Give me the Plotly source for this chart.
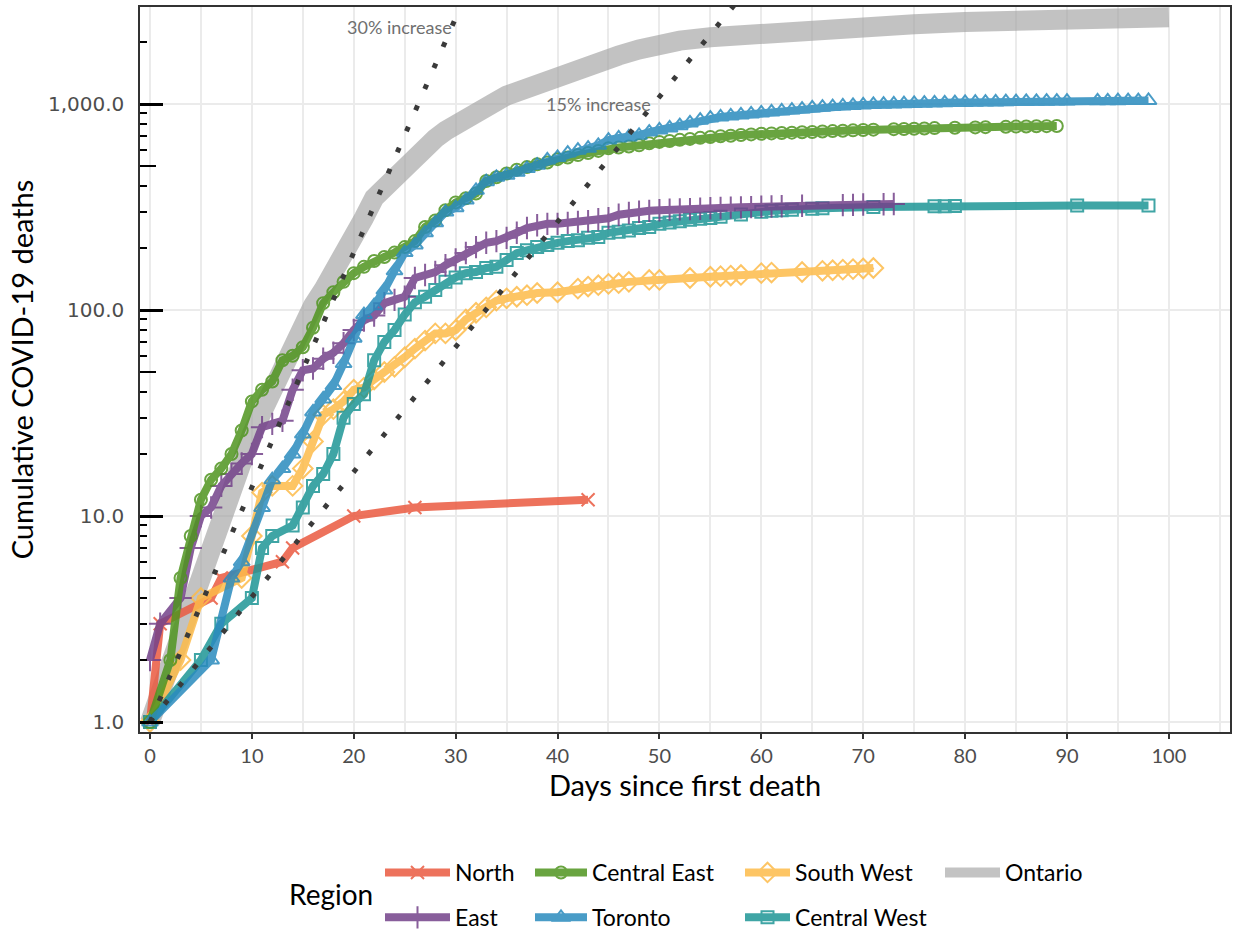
import math
import plotly.graph_objects as go

# ---- cumulative deaths by region (days since first death) ----
north_day = [0, 1, 6, 7, 13, 14, 20, 26, 43]
north_val = [1, 3, 4, 5, 6, 7, 10, 11, 12]

east_day = [0, 1, 3, 4, 5, 6, 7, 8, 9, 10, 11, 12, 13, 14, 15, 16, 17, 18, 19, 20,
            21, 22, 23, 24, 25, 26, 27, 28, 29, 30, 31, 32, 33, 34, 35, 36, 37, 38, 39, 40,
            41, 42, 43, 44, 45, 46, 47, 48, 49, 50, 51, 52, 53, 54, 55, 56, 57, 58, 59, 60,
            61, 62, 64, 68, 69, 70, 72, 73]
east_val = [2, 3, 4, 7, 10, 11, 14, 16, 18, 20, 27, 28, 29, 41, 51, 52, 58, 62, 69, 80,
            89, 94, 108, 112, 116, 143, 148, 153, 165, 176, 189, 202, 212, 216, 224, 237, 250, 258, 262, 262,
            265, 268, 270, 276, 279, 290, 296, 300, 303, 305, 307, 308, 309, 310, 312, 313, 314, 315, 316, 317,
            318, 319, 321, 323, 324, 325, 326, 327]

ce_day = [0, 2, 3, 4, 5, 6, 7, 8, 9, 10, 11, 12, 13, 14, 15, 16, 17, 18, 19, 20,
          21, 22, 23, 24, 25, 26, 27, 28, 29, 30, 31, 32, 33, 34, 35, 36, 37, 38, 39, 40,
          41, 42, 43, 44, 45, 46, 47, 48, 49, 50, 51, 52, 53, 54, 55, 56, 57, 58, 59, 60,
          61, 62, 63, 64, 65, 66, 67, 68, 69, 70, 71, 73, 74, 75, 76, 77, 79, 81, 82, 84,
          85, 86, 87, 88, 89]
ce_val = [1, 2, 5, 8, 12, 15, 17, 20, 26, 36, 41, 45, 57, 60, 66, 82, 108, 122, 137, 151,
          162, 173, 181, 190, 202, 216, 253, 272, 305, 333, 349, 368, 423, 441, 460, 480, 494, 510, 520, 540,
          550, 565, 578, 592, 610, 615, 622, 630, 645, 655, 662, 670, 677, 685, 692, 697, 702, 707, 712, 717,
          720, 723, 726, 729, 732, 736, 739, 742, 745, 748, 751, 755, 757, 759, 761, 764, 767, 770, 772, 775,
          777, 778, 780, 781, 782]

tor_day = [0, 6, 8, 9, 11, 12, 13, 14, 15, 16, 17, 18, 19, 20, 21, 22, 23, 24, 25, 26,
           27, 28, 29, 30, 31, 32, 33, 34, 35, 36, 37, 38, 39, 40, 41, 42, 43, 44, 45, 46,
           47, 48, 49, 50, 51, 52, 53, 54, 55, 56, 57, 58, 59, 60, 61, 62, 63, 64, 65, 66,
           67, 68, 69, 70, 71, 72, 73, 74, 75, 76, 77, 78, 79, 80, 81, 82, 83, 84, 85, 86,
           87, 88, 89, 90, 93, 94, 95, 96, 97, 98]
tor_val = [1, 2, 5, 6, 11, 15, 17, 20, 25, 32, 37, 43, 55, 73, 95, 105, 125, 155, 190, 207,
           237, 265, 299, 314, 342, 381, 420, 441, 451, 466, 486, 505, 535, 550, 578, 597, 610, 630, 668, 684,
           692, 705, 731, 748, 765, 785, 810, 835, 855, 865, 875, 885, 895, 905, 915, 925, 935, 945, 957, 965,
           972, 978, 984, 990, 995, 998, 1001, 1004, 1007, 1010, 1012, 1014, 1016, 1018, 1020, 1022, 1024, 1026, 1028, 1030,
           1031, 1032, 1033, 1034, 1036, 1037, 1038, 1039, 1039, 1040]

sw_day = [0, 3, 5, 9, 10, 11, 12, 14, 15, 16, 17, 18, 19, 20, 21, 22, 23, 24, 25, 26,
          27, 28, 29, 30, 31, 32, 33, 34, 35, 36, 37, 38, 40, 42, 43, 44, 45, 46, 47, 49,
          50, 53, 55, 56, 57, 58, 60, 61, 64, 66, 67, 68, 69, 70, 71]
sw_val = [1, 2, 4, 5, 8, 13, 14, 14, 17, 23, 31, 33, 36, 41, 42, 46, 50, 53, 59, 65,
          71, 77, 77, 80, 90, 97, 103, 111, 114, 116, 118, 121, 122, 127, 130, 132, 134, 135, 137, 140,
          140, 143, 145, 146, 147, 148, 151, 152, 153, 155, 156, 157, 158, 159, 160]

cw_day = [0, 5, 7, 10, 11, 12, 14, 15, 16, 17, 18, 19, 20, 21, 22, 23, 24, 25, 26, 27,
          28, 29, 30, 31, 32, 33, 34, 35, 36, 37, 38, 39, 40, 41, 42, 43, 44, 45, 46, 47,
          48, 49, 50, 51, 52, 53, 54, 55, 56, 58, 60, 61, 62, 63, 65, 66, 71, 77, 78, 79,
          91, 98]
cw_val = [1, 2, 3, 4, 7, 8, 9, 11, 14, 16, 20, 30, 35, 39, 57, 70, 80, 95, 109, 116,
          125, 137, 144, 151, 153, 160, 162, 175, 189, 195, 202, 207, 212, 216, 218, 224, 226, 237, 240, 243,
          250, 253, 262, 266, 270, 274, 277, 280, 284, 291, 300, 303, 305, 307, 310, 312, 316, 319, 319, 320,
          322, 322]

ont_day = [0, 1, 2, 3, 4, 5, 6, 7, 8, 9, 10, 11, 12, 13, 14, 15, 16, 17, 18, 19,
           20, 21, 22, 23, 24, 25, 26, 27, 28, 29, 30, 31, 32, 33, 34, 35, 36, 37, 38, 39,
           40, 42, 44, 46, 48, 50, 52, 55, 58, 61, 65, 70, 75, 80, 85, 90, 95, 100]
ont_val = [1, 1.4, 2, 2.8, 3.8, 5.5, 7, 9.5, 13, 18, 25, 32, 41, 52, 66, 90, 105, 125, 150, 180,
           215, 280, 350, 395, 440, 500, 560, 620, 680, 740, 800, 860, 910, 960, 1030, 1100, 1150, 1200, 1270, 1330,
           1390, 1490, 1610, 1720, 1840, 1950, 2030, 2110, 2170, 2220, 2290, 2370, 2440, 2500, 2560, 2600, 2625, 2640]

# reference growth lines: daily growth rate, label, last day drawn
growth_rate = [0.30, 0.15]
growth_label = ["30% increase", "15% increase"]
growth_end = [31, 58]
growth_label_pos = [(24.5, 2360), (44.0, 1000)]

y_major = [1, 10, 100, 1000]
y_major_text = ["1.0", "10.0", "100.0", "1,000.0"]
y_mid = [5, 50, 500]
y_minor = [m * d for d in (1, 10, 100, 1000) for m in (2, 3, 4, 6, 7, 8, 9) if m * d < 3000]
x_ticks = list(range(0, 101, 10))

# ---- styling ----
regions = [
    # name, days, values, colour, symbol, size, legend, rank within its column
    ("Ontario", ont_day, ont_val, "#9E9E9E", None, 0, "legend4", 1),
    ("North", north_day, north_val, "#EA5A40", "x-thin-open", 13, "legend", 1),
    ("South West", sw_day, sw_val, "#FDBB4A", "diamond-open", 15, "legend3", 1),
    ("Central West", cw_day, cw_val, "#1E9696", "square-open", 12, "legend3", 2),
    ("East", east_day, east_val, "#74428A", "cross-thin-open", 16, "legend", 2),
    ("Central East", ce_day, ce_val, "#4F951F", "circle-open", 12, "legend2", 1),
    ("Toronto", tor_day, tor_val, "#2A8BBE", "triangle-up-open", 14, "legend2", 2),
]

fig = go.Figure()

for name, days, vals, colour, symbol, size, leg, rank in regions:
    if symbol is None:
        fig.add_trace(go.Scatter(
            x=days, y=vals, name=name, mode="lines",
            line=dict(color=colour, width=20), opacity=0.62,
            legend=leg, legendrank=rank, legendgroup=name,
        ))
    else:
        fig.add_trace(go.Scatter(
            x=days, y=vals, name=name, mode="lines+markers",
            line=dict(color=colour, width=8),
            marker=dict(symbol=symbol, size=size, color=colour,
                        line=dict(width=2, color=colour)),
            opacity=0.85, legend=leg, legendrank=rank, legendgroup=name,
        ))

for rate, end in zip(growth_rate, growth_end):
    fig.add_trace(go.Scatter(
        x=[0, end], y=[1, (1 + rate) ** end], mode="lines",
        line=dict(color="#3A3A3A", width=5, dash="5px,18px"),
        showlegend=False, hoverinfo="skip",
    ))

# carrier trace so the mid-decade tick axis is drawn
fig.add_trace(go.Scatter(x=[0], y=[1], yaxis="y2", mode="markers",
                         marker=dict(opacity=0), showlegend=False, hoverinfo="skip"))

for label, (gx, gy) in zip(growth_label, growth_label_pos):
    fig.add_annotation(x=gx, y=math.log10(gy), text=label, showarrow=False,
                       font=dict(family="Lato", size=18, color="#707070"))

fig.add_annotation(text="Region", xref="paper", yref="paper",
                   x=(331 - 140) / 1090, y=(732 - 894) / 725,
                   xanchor="center", yanchor="middle", showarrow=False,
                   font=dict(family="Lato", size=28, color="black"))

y_range = [-0.0485, 3.471]
grid = "#EBEBEB"
leg_common = dict(yanchor="top", xanchor="left", orientation="v", y=(732 - 851) / 725,
                  font=dict(size=23), tracegroupgap=12, bgcolor="rgba(0,0,0,0)")

fig.update_layout(
    width=1235, height=932,
    margin=dict(l=140, r=5, t=7, b=200, autoexpand=False),
    paper_bgcolor="white", plot_bgcolor="white",
    font=dict(family="Lato", color="black"),
    xaxis=dict(
        range=[-0.98, 106], tickvals=x_ticks, ticks="outside", ticklen=5,
        tickwidth=1.5, tickcolor="#333333",
        tickfont=dict(family="Lato", size=20, color="#4D4D4D"),
        showgrid=True, gridcolor=grid, gridwidth=2,
        minor=dict(dtick=5, tick0=0, showgrid=True, gridcolor=grid, gridwidth=2),
        showline=True, linecolor="#333333", linewidth=1.5, mirror=True, zeroline=False,
        title=dict(text="Days since first death", font=dict(size=29), standoff=6),
    ),
    yaxis=dict(
        type="log", range=y_range, tickvals=y_major, ticktext=y_major_text,
        ticks="inside", ticklen=23, tickwidth=2.5, tickcolor="black",
        tickfont=dict(family="DejaVu Sans", size=20, color="#4D4D4D"),
        ticklabelstandoff=10,
        minor=dict(tickvals=y_minor, ticks="inside", ticklen=7, tickwidth=2,
                   tickcolor="black", showgrid=False),
        showgrid=True, gridcolor=grid, gridwidth=2,
        showline=True, linecolor="#333333", linewidth=1.5, mirror=True, zeroline=False,
        title=dict(text="Cumulative COVID-19 deaths", font=dict(size=29), standoff=6),
    ),
    yaxis2=dict(
        type="log", range=y_range, overlaying="y", anchor="x", side="left",
        tickvals=y_mid, ticks="inside", ticklen=16, tickwidth=2, tickcolor="black",
        showticklabels=False, showgrid=False, showline=False, zeroline=False,
    ),
    legend=dict(x=(380 - 140) / 1090, itemwidth=65, **leg_common),
    legend2=dict(x=(530 - 140) / 1090, itemwidth=52, **leg_common),
    legend3=dict(x=(740 - 140) / 1090, itemwidth=45, **leg_common),
    legend4=dict(x=(940 - 140) / 1090, itemwidth=55, **leg_common),
)

fig.write_html("out.html")
